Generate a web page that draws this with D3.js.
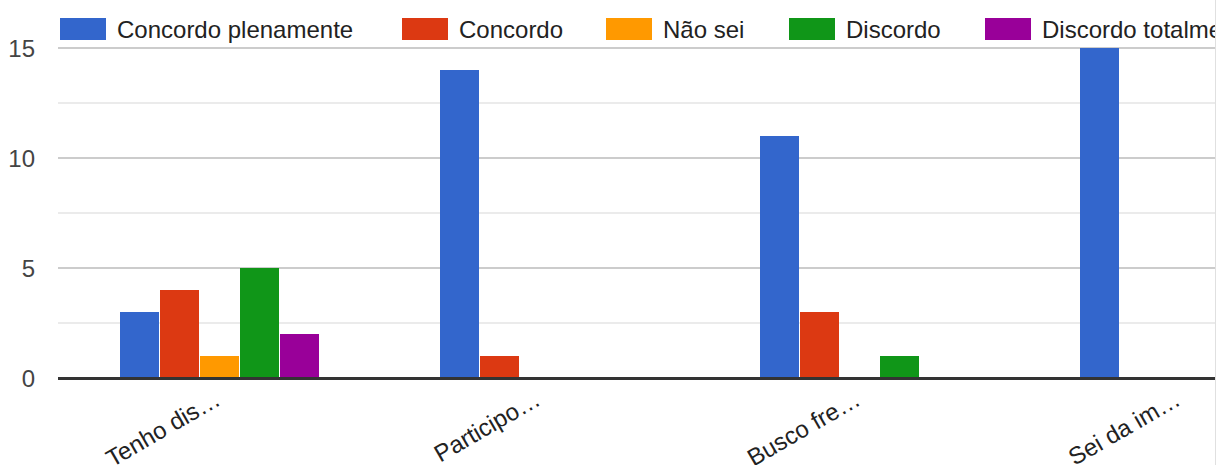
<!DOCTYPE html>
<html><head><meta charset="utf-8">
<script src="https://cdn.jsdelivr.net/npm/d3@7"></script>
<style>html,body{margin:0;padding:0;background:#fff;overflow:hidden}svg{display:block}</style>
</head><body>
<svg id="chart" width="1217" height="465"></svg>
<script>
const categories = ["Tenho dis…", "Participo…", "Busco fre…", "Sei da im…"];
const seriesNames = ["Concordo plenamente", "Concordo", "Não sei", "Discordo", "Discordo totalmente"];
const seriesColors = ["#3366cc", "#dc3912", "#ff9900", "#109618", "#990099"];
const concordoPlenamente = [3, 14, 11, 15];
const concordo = [4, 1, 3, 0];
const naoSei = [1, 0, 0, 0];
const discordo = [5, 0, 1, 0];
const discordoTotalmente = [2, 0, 0, 0];
const seriesValues = [concordoPlenamente, concordo, naoSei, discordo, discordoTotalmente];
const yTicks = [0, 5, 10, 15];
const yMinorTicks = [2.5, 7.5, 12.5];

const W = 1217, H = 465;
const svg = d3.select("#chart");
const font = "'Liberation Sans', Arial, sans-serif";
const clipRight = 1215;

svg.append("defs").append("clipPath").attr("id", "clip")
  .append("rect").attr("x", 0).attr("y", 0).attr("width", clipRight).attr("height", H);
const g = svg.append("g").attr("clip-path", "url(#clip)");

const y = d3.scaleLinear().domain([0, 15]).range([378, 48]);
const x0 = d3.scaleBand().domain(categories).range([60, 1340]).paddingInner(0).paddingOuter(0);
const bandPad = 60;
const x1 = d3.scaleBand().domain(seriesNames).range([0, x0.bandwidth() - 2 * bandPad]).padding(0);

// gridlines
g.selectAll("line.minor").data(yMinorTicks).join("line")
  .attr("x1", 58).attr("x2", clipRight)
  .attr("y1", d => y(d)).attr("y2", d => y(d))
  .attr("stroke", "#ebebeb").attr("stroke-width", 2);
g.selectAll("line.major").data(yTicks.filter(d => d !== 0)).join("line")
  .attr("x1", 58).attr("x2", clipRight)
  .attr("y1", d => y(d)).attr("y2", d => y(d))
  .attr("stroke", "#cccccc").attr("stroke-width", 2);

// y labels
svg.selectAll("text.ylab").data(yTicks).join("text")
  .attr("x", 35).attr("y", d => y(d)).attr("dy", "0.36em")
  .attr("text-anchor", "end").attr("font-family", font).attr("font-size", 24)
  .attr("fill", "#444").text(d => d);

// bars
const groups = g.selectAll("g.grp").data(categories).join("g")
  .attr("transform", d => `translate(${x0(d) + bandPad},0)`);
groups.selectAll("rect").data((c, i) => seriesNames.map((s, j) => ({s, j, v: seriesValues[j][i]})))
  .join("rect")
  .attr("x", d => x1(d.s))
  .attr("width", x1.bandwidth() - 1)
  .attr("y", d => y(d.v))
  .attr("height", d => y(0) - y(d.v))
  .attr("fill", d => seriesColors[d.j]);

// baseline
g.append("line").attr("x1", 58).attr("x2", clipRight)
  .attr("y1", y(0) + 0.5).attr("y2", y(0) + 0.5)
  .attr("stroke", "#333").attr("stroke-width", 3);

// x labels
svg.selectAll("text.xlab").data(categories).join("text")
  .attr("transform", d => `translate(${x0(d) + x0.bandwidth() / 2 + 2},404) rotate(-30)`)
  .attr("text-anchor", "end").attr("font-family", font).attr("font-size", 24)
  .attr("fill", "#222").text(d => d);

// legend
const legendX = [60, 402, 606, 789, 985];
const leg = g.selectAll("g.leg").data(seriesNames).join("g")
  .attr("transform", (d, i) => `translate(${legendX[i]},18)`);
leg.append("rect").attr("width", 46).attr("height", 22).attr("fill", (d, i) => seriesColors[i]);
leg.append("text").attr("x", 57).attr("y", 20).attr("font-family", font).attr("font-size", 24)
  .attr("fill", "#222").text(d => d);

// right border
svg.append("line").attr("x1", 1215.5).attr("x2", 1215.5).attr("y1", 0).attr("y2", H)
  .attr("stroke", "#e0e0e0").attr("stroke-width", 1);
</script>
</body></html>
